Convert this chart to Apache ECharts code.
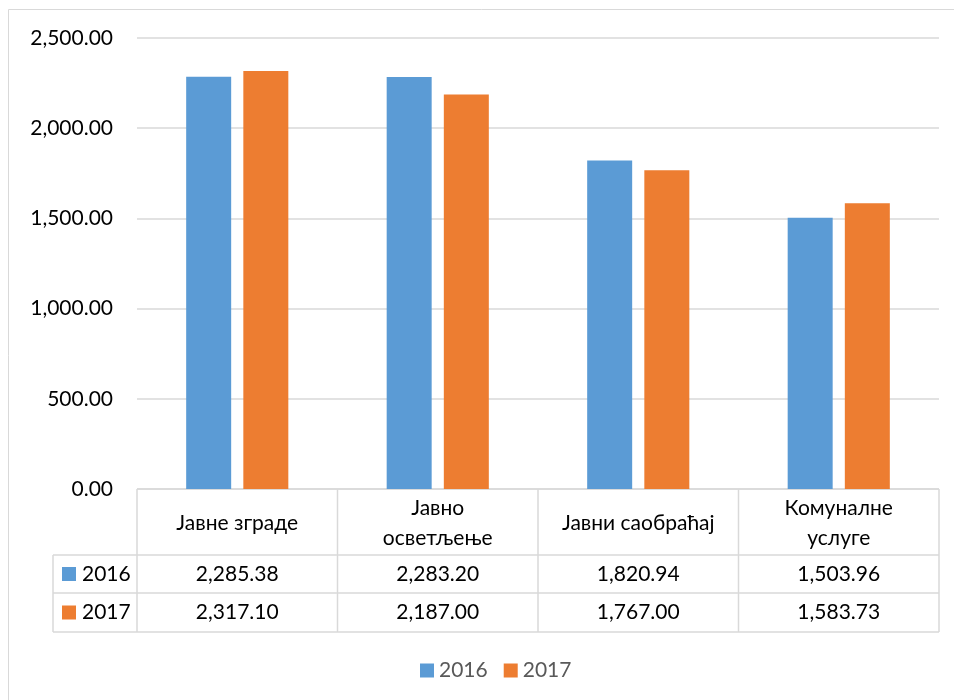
<!DOCTYPE html>
<html>
<head>
<meta charset="utf-8">
<script src="https://cdn.jsdelivr.net/npm/echarts@6/dist/echarts.min.js"></script>
<style>
  html, body { margin: 0; padding: 0; background: #fff; }
  #chart { width: 954px; height: 700px; }
</style>
</head>
<body>
<div id="chart"></div>
<script>
// data
const categories = ["Јавне зграде", "Јавно\nосветљење", "Јавни саобраћај", "Комуналне\nуслуге"];
const seriesNames = ["2016", "2017"];
const values2016 = [2285.38, 2283.2, 1820.94, 1503.96];
const values2017 = [2317.1, 2187.0, 1767.0, 1583.73];
const yTicks = [0, 500, 1000, 1500, 2000, 2500];

const colors = ["#5B9BD5", "#ED7D31"];
const font = "Lato";
const fontSize = 21;

// layout
const gridLeft = 137, gridRight = 939, gridTop = 38, gridBottom = 489;
const tableLeft = 53;
const rowLines = [489, 555, 593, 632];

const fmt = v => v.toLocaleString("en-US", { minimumFractionDigits: 2, maximumFractionDigits: 2 });

const chart = echarts.init(document.getElementById("chart"));

function buildTable() {
  const band = (gridRight - gridLeft) / categories.length;
  const lineStyle = { stroke: "#d9d9d9", lineWidth: 1.5 };
  const els = [];
  // outer frame
  els.push({ type: "rect", shape: { x: 8.5, y: 9.5, width: 1000, height: 800 }, style: { fill: null, stroke: "#d9d9d9", lineWidth: 1 }, silent: true });
  // horizontal lines
  rowLines.forEach((y, i) => {
    els.push({ type: "line", shape: { x1: i === 0 ? gridLeft : tableLeft, y1: y, x2: gridRight, y2: y }, style: lineStyle, silent: true });
  });
  // vertical lines
  for (let i = 0; i <= categories.length; i++) {
    const x = gridLeft + i * band;
    els.push({ type: "line", shape: { x1: x, y1: rowLines[0], x2: x, y2: rowLines[3] }, style: lineStyle, silent: true });
  }
  els.push({ type: "line", shape: { x1: tableLeft, y1: rowLines[1], x2: tableLeft, y2: rowLines[3] }, style: lineStyle, silent: true });

  const rows = [values2016, values2017];
  rows.forEach((vals, r) => {
    const yc = (rowLines[r + 1] + rowLines[r + 2]) / 2;
    // legend key in table
    els.push({ type: "rect", shape: { x: 62, y: yc - 7, width: 14, height: 14 }, style: { fill: colors[r] }, silent: true });
    els.push({ type: "text", x: 82, y: yc, style: { text: seriesNames[r], font: fontSize + "px " + font, fill: "#000", textAlign: "left", textVerticalAlign: "middle" }, silent: true });
    vals.forEach((v, c) => {
      const xc = chart.convertToPixel({ xAxisIndex: 0 }, c);
      els.push({ type: "text", x: xc, y: yc, style: { text: fmt(v), font: fontSize + "px " + font, fill: "#000", textAlign: "center", textVerticalAlign: "middle" }, silent: true });
    });
  });
  return els;
}

const option = {
  animation: false,
  color: colors,
  grid: {
    left: gridLeft,
    right: 954 - gridRight,
    top: gridTop,
    bottom: 700 - gridBottom,
    containLabel: false
  },
  legend: {
    data: seriesNames,
    top: 655,
    left: 415,
    itemWidth: 14,
    itemHeight: 14,
    itemGap: 16,
    icon: "rect",
    textStyle: { color: "#595959", fontFamily: font, fontSize: fontSize }
  },
  xAxis: {
    type: "category",
    data: categories,
    axisLine: { show: false },
    axisTick: { show: false },
    axisLabel: {
      margin: 34,
      verticalAlign: "middle",
      lineHeight: 30,
      color: "#000",
      fontFamily: font,
      fontSize: fontSize,
      interval: 0
    }
  },
  yAxis: {
    type: "value",
    min: yTicks[0],
    max: yTicks[yTicks.length - 1],
    interval: yTicks[1] - yTicks[0],
    axisLine: { show: false },
    axisTick: { show: false },
    splitLine: { lineStyle: { color: "#d9d9d9", width: 1.5 } },
    axisLabel: {
      margin: 24,
      color: "#000",
      fontFamily: font,
      fontSize: fontSize,
      formatter: v => fmt(v)
    }
  },
  series: [
    { name: seriesNames[0], type: "bar", data: values2016, barWidth: 45, barGap: "27%" },
    { name: seriesNames[1], type: "bar", data: values2017, barWidth: 45, barGap: "27%" }
  ]
};

chart.setOption(option);
chart.setOption({ graphic: buildTable() });
</script>
</body>
</html>
